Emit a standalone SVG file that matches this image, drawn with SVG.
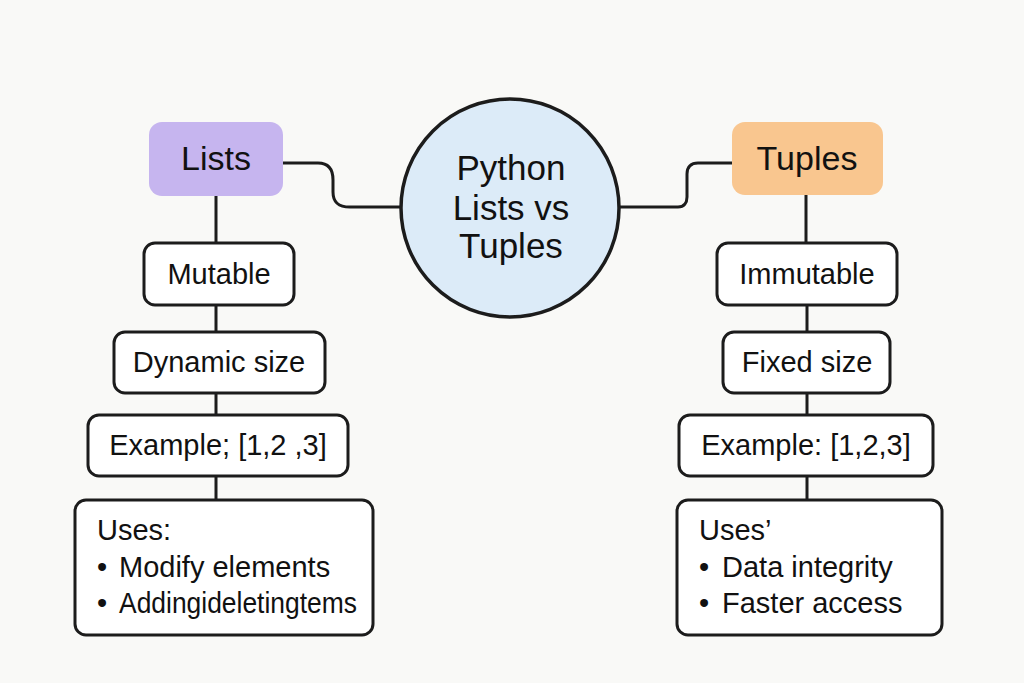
<svg xmlns="http://www.w3.org/2000/svg" width="1024" height="683" viewBox="0 0 1024 683">
<style>
.box{fill:#ffffff;stroke:#1c1c1c;stroke-width:3}
.t{font-family:"Liberation Sans",Arial,sans-serif;fill:#111;font-size:29px}
.c{text-anchor:middle}
.h{font-size:34px}
.ln{fill:none;stroke:#1c1c1c;stroke-width:3;stroke-linecap:round}
</style>
<rect width="1024" height="683" fill="#f9f9f7"/>
<g id="connectors">
<path class="ln" d="M283,163 H318 C329,163 333,170 333,180 V192 C333,202 338,207 350,207 H401"/>
<path class="ln" d="M620,207 H678 C684,207 687,203 687,197 V174 C687,167 691,163 698,163 H732"/>
<path class="ln" d="M216,196 V243 M216,305 V332 M216,393 V415 M216,476 V500"/>
<path class="ln" d="M806,195 V243 M807,305 V332 M807,393 V415 M807,476 V500"/>
</g>
<g id="center">
<circle cx="510" cy="208" r="109" fill="#dcebf8" stroke="#1c1c1c" stroke-width="3.5"/>
<text class="t c" x="511" y="180" style="font-size:35px">Python</text>
<text class="t c" x="511" y="220" style="font-size:35px">Lists vs</text>
<text class="t c" x="511" y="258" style="font-size:35px">Tuples</text>
</g>
<g id="lists">
<rect x="149" y="122" width="134" height="74" rx="13" fill="#c6b5ef"/>
<text class="t c h" x="216" y="170">Lists</text>
</g>
<g id="mutable">
<rect class="box" x="144" y="243" width="150" height="62" rx="11"/>
<text class="t c" x="219" y="284">Mutable</text>
</g>
<g id="dynamic">
<rect class="box" x="114" y="332" width="211" height="61" rx="11"/>
<text class="t c" x="219" y="372">Dynamic size</text>
</g>
<g id="example-list">
<rect class="box" x="88" y="415" width="260" height="61" rx="11"/>
<text class="t c" x="218" y="455">Example; [1,2 ,3]</text>
</g>
<g id="uses-list">
<rect class="box" x="75" y="500" width="298" height="135" rx="11"/>
<text class="t" x="97" y="540">Uses:</text>
<text class="t" x="97" y="577">•</text>
<text class="t" x="119" y="577">Modify elements</text>
<text class="t" x="97" y="613">•</text>
<text class="t" x="119" y="613" textLength="238" lengthAdjust="spacingAndGlyphs">Addingideletingtems</text>
</g>
<g id="tuples">
<rect x="732" y="122" width="151" height="73" rx="13" fill="#f9c68f"/>
<text class="t c h" x="807" y="170">Tuples</text>
</g>
<g id="immutable">
<rect class="box" x="717" y="243" width="180" height="62" rx="11"/>
<text class="t c" x="807" y="284">Immutable</text>
</g>
<g id="fixed">
<rect class="box" x="723" y="332" width="167" height="61" rx="11"/>
<text class="t c" x="807" y="372">Fixed size</text>
</g>
<g id="example-tuple">
<rect class="box" x="679" y="415" width="254" height="61" rx="11"/>
<text class="t c" x="806" y="455">Example: [1,2,3]</text>
</g>
<g id="uses-tuple">
<rect class="box" x="677" y="500" width="265" height="135" rx="11"/>
<text class="t" x="699" y="540">Uses’</text>
<text class="t" x="699" y="577">•</text>
<text class="t" x="722" y="577">Data integrity</text>
<text class="t" x="699" y="613">•</text>
<text class="t" x="722" y="613">Faster access</text>
</g>
</svg>
